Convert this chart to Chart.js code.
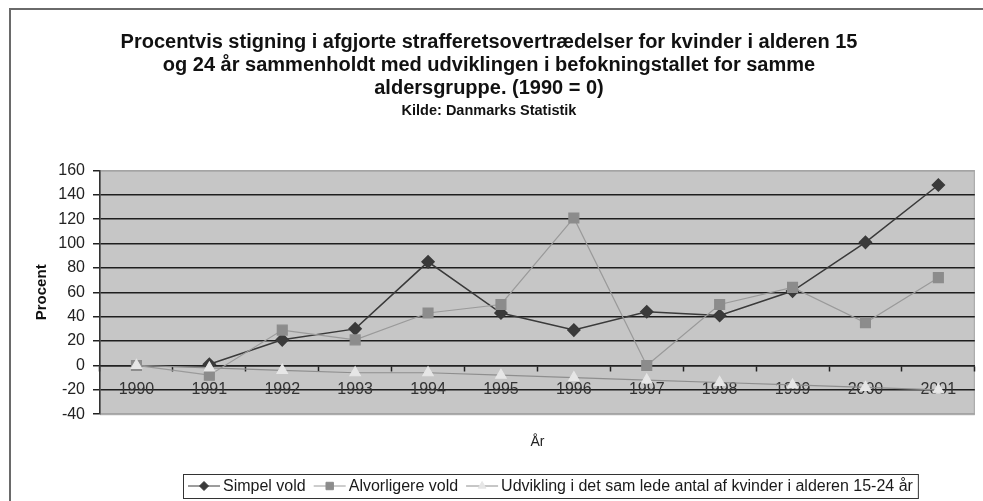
<!DOCTYPE html>
<html>
<head>
<meta charset="utf-8">
<script src="https://cdn.jsdelivr.net/npm/chart.js@4/dist/chart.umd.min.js"></script>
<style>
  html, body { margin: 0; padding: 0; background: #fff; }
  #wrap { position: relative; width: 983px; height: 501px; }
</style>
</head>
<body>
<div id="wrap"><canvas id="chart" width="983" height="501"></canvas></div>
<script>
// data
var years = ['1990', '1991', '1992', '1993', '1994', '1995', '1996', '1997', '1998', '1999', '2000', '2001'];
var simpelVold = [null, 1, 21, 30, 85, 43, 29, 44, 41, 61, 101, 148];
var alvorligereVold = [0, -8, 29, 21, 43, 50, 121, 0, 50, 64, 35, 72];
var udvikling = [0, -2, -4, -6, -6, -8, -10, -12, -14, -16, -18, -20];
var seriesNames = ['Simpel vold', 'Alvorligere vold', 'Udvikling i det sam lede antal af kvinder i alderen 15-24 år'];

var FONT = "'Liberation Sans', Arial, sans-serif";

// grey plot background + frame around the whole chart
var backdrop = {
  id: 'backdrop',
  beforeDraw: function (chart) {
    var ctx = chart.ctx, a = chart.chartArea;
    ctx.save();
    ctx.fillStyle = '#fff';
    ctx.fillRect(0, 0, chart.width, chart.height);
    ctx.fillStyle = '#c6c6c6';
    ctx.fillRect(a.left, a.top, a.right - a.left, a.bottom - a.top);
    ctx.strokeStyle = '#a4a4a4';
    ctx.lineWidth = 1;
    ctx.strokeRect(a.left + 0.5, a.top + 0.5, a.right - a.left - 1, a.bottom - a.top);
    ctx.strokeStyle = '#6a6a6a';
    ctx.lineWidth = 2;
    ctx.strokeRect(10, 9, chart.width + 20, chart.height + 20);
    ctx.restore();
  }
};

// boxed legend with line + marker samples
var boxLegend = {
  id: 'boxLegend',
  afterDraw: function (chart) {
    var ctx = chart.ctx;
    var left = 183, top = 474, h = 24, sample = 32, gapText = 3, gapItem = 8;
    ctx.save();
    ctx.font = '16px ' + FONT;
    var x = left + 5;
    var y = top + h / 2;
    chart.data.datasets.forEach(function (ds) {
      ctx.strokeStyle = ds.borderColor;
      ctx.lineWidth = 1;
      ctx.beginPath();
      ctx.moveTo(x, y);
      ctx.lineTo(x + sample, y);
      ctx.stroke();
      ctx.fillStyle = ds.pointBackgroundColor;
      ctx.strokeStyle = ds.pointBorderColor;
      Chart.helpers.drawPoint(ctx, {
        pointStyle: ds.pointStyle, rotation: 0, borderWidth: 1,
        radius: ds.pointRadius * 0.75
      }, x + sample / 2, y);
      x += sample + gapText;
      ctx.fillStyle = '#1a1a1a';
      ctx.textBaseline = 'middle';
      ctx.textAlign = 'left';
      ctx.fillText(ds.label, x, y + 1);
      x += ctx.measureText(ds.label).width + gapItem;
    });
    ctx.strokeStyle = '#333';
    ctx.lineWidth = 1;
    ctx.strokeRect(left + 0.5, top + 0.5, x - left - 3, h);
    ctx.restore();
  }
};

new Chart(document.getElementById('chart'), {
  type: 'line',
  data: {
    labels: years,
    datasets: [{
      label: seriesNames[0],
      data: simpelVold,
      borderColor: '#3a3a3a',
      borderWidth: 1.5,
      pointStyle: 'rectRot',
      pointRadius: 6,
      pointBackgroundColor: '#3a3a3a',
      pointBorderColor: '#3a3a3a',
      tension: 0,
      order: 2
    }, {
      label: seriesNames[1],
      data: alvorligereVold,
      borderColor: '#9a9a9a',
      borderWidth: 1.2,
      pointStyle: 'rect',
      pointRadius: 7,
      pointBackgroundColor: '#8c8c8c',
      pointBorderColor: '#8c8c8c',
      tension: 0,
      order: 1
    }, {
      label: seriesNames[2],
      data: udvikling,
      borderColor: '#8e8e8e',
      borderWidth: 1.2,
      pointStyle: 'triangle',
      pointRadius: 6,
      pointBackgroundColor: '#e6e6e6',
      pointBorderColor: '#e6e6e6',
      tension: 0,
      order: 0
    }]
  },
  options: {
    responsive: false,
    animation: false,
    layout: { padding: { left: 2, right: 7, top: 0, bottom: 41 } },
    plugins: {
      legend: { display: false },
      tooltip: { enabled: false },
      title: {
        display: true,
        text: ['Procentvis stigning i afgjorte strafferetsovertrædelser for kvinder i alderen 15',
               'og 24 år sammenholdt med udviklingen i befokningstallet for samme',
               'aldersgruppe. (1990 = 0)'],
        color: '#111',
        font: { family: FONT, size: 20, weight: 'bold', lineHeight: 1.15 },
        padding: { top: 31, bottom: 2 }
      },
      subtitle: {
        display: true,
        text: 'Kilde: Danmarks Statistik',
        color: '#111',
        font: { family: FONT, size: 14.5, weight: 'bold', lineHeight: 1.2 },
        padding: { top: 0, bottom: 51 }
      }
    },
    scales: {
      x: {
        type: 'category',
        position: { y: 0 },
        offset: true,
        grid: {
          display: true, drawOnChartArea: false, offset: true,
          drawTicks: true, tickLength: 5, tickColor: '#222', tickWidth: 1.5
        },
        border: { display: true, color: '#222', width: 1.5 },
        ticks: { color: '#333', padding: 10, font: { family: FONT, size: 16 }, maxRotation: 0, autoSkip: false }
      },
      x2: {
        type: 'category',
        position: 'bottom',
        labels: years,
        offset: true,
        grid: { display: false, drawTicks: false },
        border: { display: false },
        ticks: { display: false },
        title: {
          display: true, text: 'År', color: '#222',
          font: { family: FONT, size: 14 }, padding: { top: 20, bottom: 9 }
        }
      },
      y: {
        min: -40,
        max: 160,
        afterFit: function (scale) { scale.width = 98; },
        grid: {
          color: function (c) {
            return (c.tick && (c.tick.value === 160 || c.tick.value === -40)) ? '#a4a4a4' : '#1e1e1e';
          },
          lineWidth: 1.5,
          tickLength: 7,
          tickColor: '#222',
          tickWidth: 1.5
        },
        border: { display: true, color: '#333', width: 1.5 },
        ticks: { stepSize: 20, color: '#222', padding: 8, font: { family: FONT, size: 16 } },
        title: {
          display: true, text: 'Procent', color: '#111',
          font: { family: FONT, size: 15, weight: 'bold' }, padding: { top: 31, bottom: 0 }
        }
      }
    }
  },
  plugins: [backdrop, boxLegend]
});
</script>
</body>
</html>
